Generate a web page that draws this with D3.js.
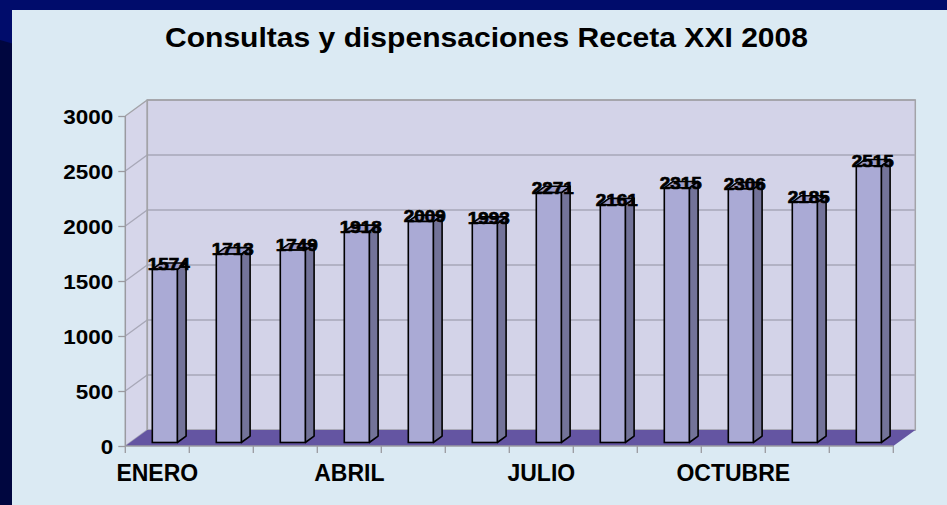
<!DOCTYPE html>
<html><head><meta charset="utf-8">
<script src="https://cdn.jsdelivr.net/npm/d3@7"></script>
<style>
html,body{margin:0;padding:0;background:#000c6b;}
svg{display:block;font-family:"Liberation Sans",Arial,sans-serif;}
</style></head>
<body><svg id="c" width="947" height="505"></svg>
<script>
const title = "Consultas y dispensaciones Receta XXI 2008";
const months = ["ENERO","FEBRERO","MARZO","ABRIL","MAYO","JUNIO","JULIO","AGOSTO","SEPTIEMBRE","OCTUBRE","NOVIEMBRE","DICIEMBRE"];
const shownLabels = ["ENERO","ABRIL","JULIO","OCTUBRE"];
const values = [1574,1713,1749,1918,2009,1993,2271,2161,2315,2306,2185,2515];
const yTicks = [0,500,1000,1500,2000,2500,3000];

const svg = d3.select("#c");
const W = 947, H = 505;
// background
svg.append("rect").attr("width",W).attr("height",H).attr("fill","#000c6b");
svg.append("path").attr("d","M0,40 L14,44 L12,505 L0,505Z").attr("fill","#00063f");
svg.append("rect").attr("x",12).attr("y",10).attr("width",W-12).attr("height",H-10).attr("fill","#dbeaf3");

// scales
const x = d3.scaleBand().domain(months).range([125.3, 893.3]).padding(0);
const y = d3.scaleLinear().domain([0,3000]).range([446,116]);
const DX = 22, DY = -16;          // depth of chart box
const f1 = 0.22, f2 = 0.62;       // bar depth (front/back fraction)
const x0 = x.range()[0], x1 = x.range()[1];

const g = svg.append("g");
// side wall
g.append("path")
  .attr("d",`M${x0},${y(0)} L${x0+DX},${y(0)+DY} L${x0+DX},${y(3000)+DY} L${x0},${y(3000)}Z`)
  .attr("fill","#d6d6ea");
// back wall
g.append("rect").attr("x",x0+DX).attr("y",y(3000)+DY).attr("width",x1-x0).attr("height",y(0)-y(3000))
  .attr("fill","#d3d3e8").attr("stroke","#a3a3a8").attr("stroke-width",1.5);
// gridlines
yTicks.forEach(t=>{
  g.append("path")
   .attr("d",`M${x0},${y(t)} L${x0+DX},${y(t)+DY} L${x1+DX},${y(t)+DY}`)
   .attr("fill","none").attr("stroke", t===3000?"#a3a3a8":"#a8a8b8").attr("stroke-width",1.3);
});
g.append("line").attr("x1",x0+DX).attr("x2",x0+DX).attr("y1",y(0)+DY).attr("y2",y(3000)+DY)
  .attr("stroke","#a3a3a8").attr("stroke-width",1.5);
// floor
g.append("path")
  .attr("d",`M${x0},${y(0)} L${x1},${y(0)} L${x1+DX},${y(0)+DY} L${x0+DX},${y(0)+DY}Z`)
  .attr("fill","#6455a2");
// axis lines
g.append("line").attr("x1",x0).attr("x2",x0).attr("y1",y(0)).attr("y2",y(3000)).attr("stroke","#9a9aa0").attr("stroke-width",1.5);
g.append("line").attr("x1",x0).attr("x2",x1).attr("y1",y(0)).attr("y2",y(0)).attr("stroke","#9a9aa0").attr("stroke-width",1.5);

// bars
const bw = 25;
const bars = g.selectAll("g.bar").data(values).enter().append("g").attr("class","bar");
bars.each(function(v,i){
  const sel = d3.select(this);
  const left = x(months[i]) + 27;
  const fx = left, fy0 = y(0) + f1*DY, fy1 = y(v) + f1*DY;
  const sx = (f2-f1)*DX, sy = (f2-f1)*DY;
  sel.append("path").attr("d",`M${fx+bw},${fy0} L${fx+bw+sx},${fy0+sy} L${fx+bw+sx},${fy1+sy} L${fx+bw},${fy1}Z`)
    .attr("fill","#737399").attr("stroke","#000").attr("stroke-width",1.6).attr("stroke-linejoin","round");
  sel.append("path").attr("d",`M${fx},${fy1} L${fx+sx},${fy1+sy} L${fx+bw+sx},${fy1+sy} L${fx+bw},${fy1}Z`)
    .attr("fill","#9c9cc8").attr("stroke","#000").attr("stroke-width",1.6).attr("stroke-linejoin","round");
  sel.append("rect").attr("x",fx).attr("y",fy1).attr("width",bw).attr("height",fy0-fy1)
    .attr("fill","#aaaad5").attr("stroke","#000").attr("stroke-width",1.6);
  sel.append("text").attr("x",fx + bw/2 + 4).attr("y",fy1 + 1).attr("text-anchor","middle")
    .attr("font-size",17).attr("font-weight","bold").attr("fill","#000")
    .attr("stroke","#000").attr("stroke-width",0.7)
    .attr("textLength",42).attr("lengthAdjust","spacingAndGlyphs").text(v);
});

// y axis labels + ticks
const yAxis = d3.axisLeft(y).tickValues(yTicks).tickSize(7).tickPadding(5).tickFormat(d3.format("d"));
const ya = svg.append("g").attr("transform",`translate(${x0},0)`).call(yAxis);
ya.select(".domain").remove();
ya.selectAll("line").attr("stroke","#9a9aa0").attr("stroke-width",1.3);
ya.selectAll("text").attr("font-size",21).attr("font-weight","bold").attr("fill","#000")
  .attr("font-family","'Liberation Sans',Arial,sans-serif").attr("dy","0.36em")
  .each(function(d){ const n=String(d).length; d3.select(this).attr("textLength",n*12.5).attr("lengthAdjust","spacingAndGlyphs"); });

// x ticks at band boundaries
const bounds = months.map(m=>x(m)).concat([x1]);
svg.append("g").selectAll("line").data(bounds).enter().append("line")
  .attr("x1",d=>d).attr("x2",d=>d).attr("y1",y(0)).attr("y2",y(0)+7)
  .attr("stroke","#9a9aa0").attr("stroke-width",1.3);
// x labels
const xAxis = d3.axisBottom(x).tickSize(0).tickPadding(0)
  .tickFormat(d=>shownLabels.includes(d)?d:"");
const xa = svg.append("g").attr("transform",`translate(0,${y(0)})`).call(xAxis);
xa.select(".domain").remove();
xa.selectAll("text").attr("font-size",23).attr("font-weight","bold").attr("fill","#000")
  .attr("font-family","'Liberation Sans',Arial,sans-serif").attr("dy",null).attr("y",35);

// title
svg.append("text").attr("x",486.5).attr("y",47).attr("text-anchor","middle")
  .attr("font-size",28).attr("font-weight","bold").attr("fill","#000")
  .attr("textLength",643).attr("lengthAdjust","spacingAndGlyphs").text(title);
</script></body></html>
